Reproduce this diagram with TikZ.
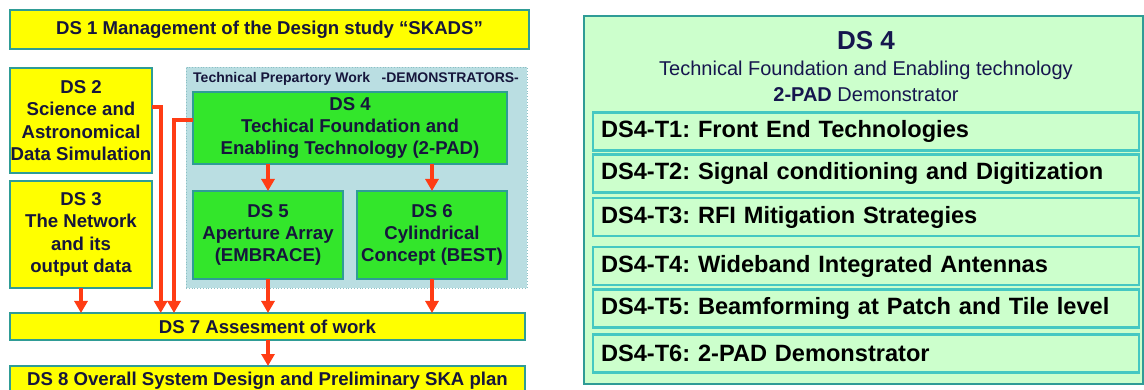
\documentclass[tikz,border=0pt]{standalone}
\usepackage{fontspec}
\setmainfont{Liberation Sans}
\usetikzlibrary{arrows.meta,calc}

\definecolor{wpyellow}{HTML}{FFFF00}
\definecolor{wpgreen}{HTML}{33E62B}
\definecolor{wpedge}{HTML}{2F9C96}
\definecolor{wpregion}{HTML}{BADEE2}
\definecolor{wpregionedge}{HTML}{8CBFC4}
\definecolor{wppale}{HTML}{CCFFCC}
\definecolor{wpturq}{HTML}{45C8C2}
\definecolor{wpred}{HTML}{FF3C14}
\definecolor{wpnavy}{HTML}{16163C}
\definecolor{wptitle}{HTML}{16164E}

\tikzset{
  wpbox/.style={draw=wpedge, line width=2.2pt, inner sep=0pt, outer sep=0pt,
    align=center, text=wpnavy, font=\bfseries\fontsize{18.6}{22.3}\selectfont},
  yellowbox/.style={wpbox, fill=wpyellow},
  greenbox/.style={wpbox, fill=wpgreen},
  region/.style={draw=wpregionedge, fill=wpregion, line width=0.8pt, dotted,
    inner sep=0pt, outer sep=0pt},
  taskbox/.style={draw=wpturq, fill=wppale, line width=2.6pt, inner xsep=8pt,
    inner ysep=0pt, outer sep=0pt, text width=530pt, align=left,
    minimum height=38pt, text=black, font=\bfseries\fontsize{23.6}{26}\selectfont},
  flow/.style={draw=wpred, line width=3.6pt, -{Triangle[length=12pt,width=13pt]}},
}

\begin{document}
\frenchspacing
\begin{tikzpicture}[x=1pt, y=-1pt]
\useasboundingbox (0,0) rectangle (1144,390);
\clip (0,0) rectangle (1144,390);

% ---- work package overview ----
\node[yellowbox, minimum width=519pt, minimum height=39pt] (ds1) at (269.5,29.5)
  {DS 1 Management of the Design study “SKADS”};

\node[region, minimum width=341pt, minimum height=221pt] (demo) at (356.5,177.5) {};
\node[anchor=west, inner sep=0pt, text=wpnavy, font=\bfseries\fontsize{14}{16}\selectfont]
  (demolabel) at (193,79) {Technical Prepartory Work\ \ \ -DEMONSTRATORS-};

\node[yellowbox, minimum width=142pt, minimum height=105pt] (ds2) at (81,120.5)
  {DS 2\\Science and\\Astronomical\\Data Simulation};
\node[yellowbox, minimum width=142pt, minimum height=107pt] (ds3) at (81,234.5)
  {DS 3\\The Network\\and its\\output data};

\node[greenbox, minimum width=314pt, minimum height=72pt] (ds4) at (350,128)
  {DS 4\\Techical Foundation and\\Enabling Technology (2-PAD)};
\node[greenbox, minimum width=150pt, minimum height=88pt] (ds5) at (268,235)
  {DS 5\\Aperture Array\\(EMBRACE)};
\node[greenbox, minimum width=150pt, minimum height=88pt] (ds6) at (432,235)
  {DS 6\\Cylindrical\\Concept (BEST)};

\node[yellowbox, minimum width=515pt, minimum height=27pt] (ds7) at (267.5,326.5)
  {DS 7 Assesment of work};
\node[yellowbox, minimum width=515pt, minimum height=29pt] (ds8) at (267.5,380.5)
  {DS 8 Overall System Design and Preliminary SKA plan};

% connectors
\draw[flow] (ds5.north |- ds4.south) -- (ds5.north);
\draw[flow] (ds6.north |- ds4.south) -- (ds6.north);
\draw[flow] (ds3.south) -- (ds3.south |- ds7.north);
\draw[flow] (ds5.south) -- (ds5.south |- ds7.north);
\draw[flow] (ds6.south) -- (ds6.south |- ds7.north);
\draw[flow] (ds5.south |- ds7.south) -- (ds5.south |- ds8.north);
\draw[flow] ($(ds2.north east)+(0,39)$) -| ($(ds7.north west)+(150.7,0)$);
\draw[flow] ($(ds4.north west)+(0,28)$) -| ($(ds7.north west)+(164,0)$);

% ---- DS 4 task breakdown ----
\node[draw=wpedge, fill=wppale, line width=2.4pt, inner sep=0pt, outer sep=0pt,
  minimum width=559pt, minimum height=368pt] (ds4panel) at (863.5,200) {};
\node[text=wptitle, font=\bfseries\fontsize{26}{30}\selectfont] (ds4title) at (866,41) {DS 4};
\node[text=wptitle, font=\fontsize{20}{24}\selectfont] (ds4sub) at (866,70)
  {Technical Foundation and Enabling technology};
\node[text=wptitle, font=\fontsize{20}{24}\selectfont] (ds4demo) at (866,95)
  {\textbf{2-PAD} Demonstrator};

\node[taskbox] (t1) at (866,131.5) {DS4-T1: Front End Technologies};
\node[taskbox] (t2) at (866,173.5) {DS4-T2: Signal conditioning and Digitization};
\node[taskbox] (t3) at (866,217)   {DS4-T3: RFI Mitigation Strategies};
\node[taskbox] (t4) at (866,266)   {DS4-T4: Wideband Integrated Antennas};
\node[taskbox] (t5) at (866,308.5) {DS4-T5: Beamforming at Patch and Tile level};
\node[taskbox] (t6) at (866,353.5) {DS4-T6: 2-PAD Demonstrator};
\end{tikzpicture}
\end{document}
